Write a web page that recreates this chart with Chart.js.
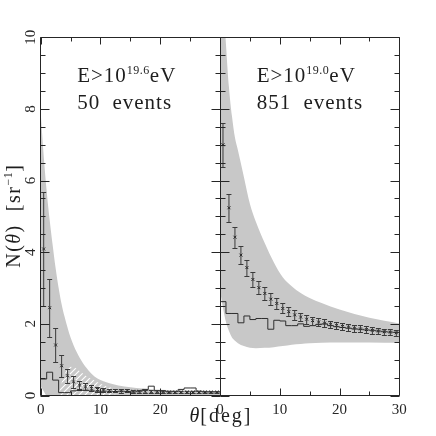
<!DOCTYPE html>
<html>
<head>
<meta charset="utf-8">
<script src="https://cdn.jsdelivr.net/npm/chart.js@4.4.0/dist/chart.umd.min.js"></script>
<style>
  html, body { margin: 0; padding: 0; background: #fff; }
  #wrap { position: relative; width: 436px; height: 436px; }
  #wrap canvas { position: absolute; left: 0; top: 0; }
</style>
</head>
<body>
<div id="wrap">
  <canvas id="leftPanel" width="436" height="436"></canvas>
  <canvas id="rightPanel" width="436" height="436"></canvas>
</div>
<script>
// ---- tick values ----
const yTickValues = [0, 2, 4, 6, 8, 10];
const yMinorTicks = [0, 0.5, 1, 1.5, 2, 2.5, 3, 3.5, 4, 4.5, 5, 5.5, 6, 6.5, 7, 7.5, 8, 8.5, 9, 9.5, 10];
const xMajorTicks = [0, 10, 20, 30];
const xMinorTicks = [0, 5, 10, 15, 20, 25, 30];
const xLabelsLeft = [0, 10, 20];
const xLabelsRight = [0, 10, 20, 30];

// ---- angular bins (deg) ----
const thetaBins = [0.5, 1.5, 2.5, 3.5, 4.5, 5.5, 6.5, 7.5, 8.5, 9.5, 10.5, 11.5, 12.5, 13.5, 14.5,
                   15.5, 16.5, 17.5, 18.5, 19.5, 20.5, 21.5, 22.5, 23.5, 24.5, 25.5, 26.5, 27.5, 28.5, 29.5];
const binEdges = [0, 1, 2, 3, 4, 5, 6, 7, 8, 9, 10, 11, 12, 13, 14, 15,
                  16, 17, 18, 19, 20, 21, 22, 23, 24, 25, 26, 27, 28, 29, 30];

// ---- E > 10^19.6 eV, 50 events ----
const leftPoints = [4.09, 2.45, 1.41, 0.83, 0.55, 0.38, 0.29, 0.24, 0.20, 0.17, 0.15, 0.14, 0.14, 0.13, 0.13,
                    0.12, 0.12, 0.12, 0.11, 0.11, 0.11, 0.10, 0.10, 0.10, 0.10, 0.10, 0.10, 0.10, 0.10, 0.10];
const leftErrors = [1.60, 0.81, 0.48, 0.30, 0.20, 0.16, 0.12, 0.10, 0.08, 0.07, 0.06, 0.055, 0.05, 0.05, 0.045,
                    0.045, 0.04, 0.04, 0.04, 0.04, 0.035, 0.035, 0.035, 0.035, 0.035, 0.03, 0.03, 0.03, 0.03, 0.03];
const leftHist = [0.46, 0.65, 0.43, 0.08, 0.08, 0.13, 0.14, 0.15, 0.13, 0.12, 0.12, 0.12, 0.11, 0.12, 0.11,
                  0.10, 0.12, 0.17, 0.26, 0.13, 0.12, 0.10, 0.11, 0.17, 0.21, 0.21, 0.12, 0.10, 0.10, 0.10];
const leftBandTheta = [0, 0.5, 1, 1.5, 2, 2.5, 3, 3.5, 4, 5, 6, 7, 8, 9, 10, 12, 14, 16, 18, 20, 25, 30];
const leftBandUpper = [7.9, 6.7, 5.7, 4.9, 4.2, 3.55, 3.0, 2.55, 2.2, 1.62, 1.22, 0.92, 0.70, 0.53, 0.43,
                       0.32, 0.25, 0.21, 0.18, 0.16, 0.14, 0.12];
const leftBandLower = [0.25, 0.12, 0, 0, 0, 0, 0, 0, 0, 0, 0, 0, 0, 0, 0, 0, 0, 0, 0, 0, 0, 0];
const leftHatchTheta = [2.9, 4, 5, 6, 7, 8, 9, 10, 11, 12, 12.5];
const leftHatchUpper = [0, 0.6, 0.8, 0.75, 0.62, 0.5, 0.42, 0.33, 0.26, 0.2, 0.17];

// ---- E > 10^19.0 eV, 851 events ----
const rightPoints = [7.00, 5.24, 4.42, 3.92, 3.57, 3.24, 3.01, 2.85, 2.69, 2.57, 2.43, 2.34, 2.25, 2.19, 2.13,
                     2.09, 2.05, 2.02, 1.99, 1.96, 1.93, 1.91, 1.88, 1.86, 1.84, 1.82, 1.80, 1.78, 1.77, 1.75];
const rightErrors = [0.62, 0.39, 0.29, 0.25, 0.22, 0.20, 0.18, 0.17, 0.16, 0.15, 0.14, 0.13, 0.13, 0.12, 0.12,
                     0.11, 0.11, 0.11, 0.10, 0.10, 0.10, 0.10, 0.095, 0.095, 0.09, 0.09, 0.09, 0.09, 0.09, 0.09];
const rightHist = [2.62, 2.29, 2.29, 2.03, 2.22, 2.12, 2.15, 2.15, 1.85, 2.10, 2.08, 1.95, 1.95, 2.00, 1.93,
                   1.95, 1.98, 2.00, 1.95, 1.92, 1.90, 1.88, 1.86, 1.85, 1.83, 1.82, 1.80, 1.78, 1.77, 1.76];
const rightBandTheta = [0, 0.5, 1, 1.5, 2, 2.5, 3, 4, 5, 6, 7.5, 9, 10.5, 12, 13.5, 15, 17, 20, 25, 30];
const rightBandUpper = [13, 11.2, 9.8, 8.6, 7.8, 7.2, 6.85, 6.1, 5.35, 4.85, 4.25, 3.72, 3.3, 3.05, 2.86,
                        2.72, 2.58, 2.4, 2.17, 2.01];
const rightBandLower = [2.94, 2.45, 2.05, 1.8, 1.62, 1.53, 1.46, 1.38, 1.33, 1.32, 1.33, 1.35, 1.38, 1.42, 1.44,
                        1.46, 1.47, 1.48, 1.48, 1.47];

const SERIF = "'Liberation Serif', 'DejaVu Serif', serif";
const INK = "#262626";
const BAND = "#c8c8c8";

function xy(xs, ys) {
  return xs.map((v, i) => ({ x: v, y: ys[i] }));
}

function histData(edges, counts) {
  return edges.map((e, i) => ({ x: e, y: counts[Math.min(i, counts.length - 1)] }));
}

function makeHatch(ctx) {
  const c = document.createElement("canvas");
  c.width = 6; c.height = 6;
  const g = c.getContext("2d");
  g.strokeStyle = "#ffffff";
  g.lineWidth = 1.1;
  g.beginPath();
  g.moveTo(0, 6); g.lineTo(6, 0);
  g.moveTo(-1, 1); g.lineTo(1, -1);
  g.moveTo(5, 7); g.lineTo(7, 5);
  g.stroke();
  return ctx.createPattern(c, "repeat");
}

// draws a run of text pieces [text, font, dy, letterSpacing]
function drawParts(ctx, parts, x, y, align) {
  let total = 0;
  parts.forEach((p) => {
    ctx.font = p[1];
    ctx.letterSpacing = p[3] || "0px";
    p.w = ctx.measureText(p[0]).width;
    total += p.w;
  });
  let cx = align === "center" ? x - total / 2 : x;
  ctx.textAlign = "left";
  ctx.textBaseline = "alphabetic";
  parts.forEach((p) => {
    ctx.font = p[1];
    ctx.letterSpacing = p[3] || "0px";
    ctx.fillText(p[0], cx, y + (p[2] || 0));
    cx += p.w;
  });
  ctx.letterSpacing = "0px";
}

function decorPlugin(points, errors, notes, withTitles) {
  return {
    id: "panelDecor",
    afterDatasetsDraw(chart) {
      const { ctx, chartArea: a, scales: { x, y } } = chart;
      ctx.save();

      // error bars
      ctx.strokeStyle = "#3a3a3a";
      ctx.lineWidth = 1;
      ctx.beginPath();
      thetaBins.forEach((t, i) => {
        const px = x.getPixelForValue(t);
        const top = Math.round(y.getPixelForValue(points[i] + errors[i])) + 0.5;
        const bot = Math.round(y.getPixelForValue(Math.max(points[i] - errors[i], 0))) + 0.5;
        ctx.moveTo(px, top); ctx.lineTo(px, bot);
        ctx.moveTo(px - 2.5, top); ctx.lineTo(px + 2.5, top);
        ctx.moveTo(px - 2.5, bot); ctx.lineTo(px + 2.5, bot);
      });
      ctx.stroke();

      // frame
      const L = Math.floor(a.left) + 0.5, R = Math.floor(a.right) + 0.5;
      const T = Math.floor(a.top) + 0.5, B = Math.floor(a.bottom) + 0.5;
      ctx.strokeStyle = INK;
      ctx.beginPath();
      ctx.rect(L, T, R - L, B - T);
      // inward ticks
      yMinorTicks.forEach((v) => {
        const len = yTickValues.includes(v) ? 9 : 5;
        const py = Math.round(y.getPixelForValue(v)) + 0.5;
        ctx.moveTo(L, py); ctx.lineTo(L + len, py);
        ctx.moveTo(R, py); ctx.lineTo(R - len, py);
      });
      xMinorTicks.forEach((v) => {
        const len = xMajorTicks.includes(v) ? 7 : 4;
        const px = Math.round(x.getPixelForValue(v)) + 0.5;
        ctx.moveTo(px, T); ctx.lineTo(px, T + len);
        ctx.moveTo(px, B); ctx.lineTo(px, B - len);
      });
      ctx.stroke();

      // annotations
      ctx.fillStyle = "#1e1e1e";
      const big = "21px " + SERIF, sup = "12px " + SERIF;
      drawParts(ctx, [["E>10", big, 0, "1px"], [notes.exp, sup, -8, "0.5px"], ["eV", big, 0, "1px"]],
        a.left + notes.dx, 81.7, "left");
      ctx.wordSpacing = "6px";
      drawParts(ctx, [[notes.count + " events", big, 0, "1px"]], a.left + notes.dx, 109.3, "left");
      ctx.wordSpacing = "0px";

      if (withTitles) {
        const t = "20px " + SERIF, ti = "italic 20px " + SERIF;
        // x title
        drawParts(ctx, [["θ", ti, 0, "1px"], ["[deg]", t, 0, "2px"]], 221, 421.5, "center");
        // y title
        ctx.save();
        ctx.translate(20, 216);
        ctx.rotate(-Math.PI / 2);
        drawParts(ctx, [["N(", t, 0, "1.5px"], ["θ", ti, 0, "1.5px"], [")  [sr", t, 0, "1.5px"],
          ["−1", sup, -8, "0.5px"], ["]", t, 0, "1px"]], 0, 0, "center");
        ctx.restore();
      }
      ctx.restore();
    }
  };
}

function makePanel(id, cfg) {
  const canvas = document.getElementById(id);
  const ctx = canvas.getContext("2d");
  const datasets = [
    {
      type: "line", data: xy(thetaBins, cfg.points), showLine: false,
      pointStyle: "crossRot", pointRadius: 2, pointBorderWidth: 1,
      pointBorderColor: "#1a1a1a", pointBackgroundColor: "#1a1a1a"
    },
    {
      type: "line", data: histData(binEdges, cfg.hist), stepped: true,
      borderColor: "#2e2e2e", borderWidth: 1, pointRadius: 0, fill: false
    }
  ];
  if (cfg.hatchTheta) {
    datasets.push({
      type: "line", data: xy(cfg.hatchTheta, cfg.hatchUpper), borderWidth: 0,
      borderColor: "rgba(0,0,0,0)", pointRadius: 0, fill: "origin",
      backgroundColor: makeHatch(ctx), cubicInterpolationMode: "monotone"
    });
  }
  datasets.push(
    {
      type: "line", data: xy(cfg.bandTheta, cfg.bandUpper), borderWidth: 0,
      borderColor: "rgba(0,0,0,0)", pointRadius: 0, fill: "+1",
      backgroundColor: BAND, cubicInterpolationMode: "monotone"
    },
    {
      type: "line", data: xy(cfg.bandTheta, cfg.bandLower), borderWidth: 0,
      borderColor: "rgba(0,0,0,0)", pointRadius: 0, fill: false,
      cubicInterpolationMode: "monotone"
    }
  );

  const tickFont = { family: SERIF, size: 15 };

  return new Chart(canvas, {
    type: "line",
    data: { datasets },
    options: {
      responsive: false,
      animation: false,
      events: [],
      layout: { padding: cfg.padding },
      plugins: { legend: { display: false }, tooltip: { enabled: false } },
      scales: {
        x: {
          type: "linear", min: 0, max: 30, position: "bottom",
          afterBuildTicks: (s) => { s.ticks = cfg.xLabels.map((v) => ({ value: v })); },
          afterFit: (s) => { s.height = 40.5; },
          ticks: { font: tickFont, color: INK, padding: 6, autoSkip: false, maxRotation: 0 },
          grid: { display: false, drawTicks: false },
          border: { display: false }
        },
        y: {
          type: "linear", min: 0, max: 10, display: cfg.showY,
          afterBuildTicks: (s) => { s.ticks = yTickValues.map((v) => ({ value: v })); },
          afterFit: (s) => { s.width = cfg.showY ? 40.7 : 0; },
          ticks: { font: tickFont, color: INK, padding: 2, autoSkip: false,
                   minRotation: 90, maxRotation: 90, crossAlign: "center" },
          grid: { display: false, drawTicks: false },
          border: { display: false }
        }
      }
    },
    plugins: [decorPlugin(cfg.points, cfg.errors, cfg.notes, cfg.titles)]
  });
}

makePanel("leftPanel", {
  points: leftPoints, errors: leftErrors, hist: leftHist,
  bandTheta: leftBandTheta, bandUpper: leftBandUpper, bandLower: leftBandLower,
  hatchTheta: leftHatchTheta, hatchUpper: leftHatchUpper,
  xLabels: xLabelsLeft, showY: true, titles: true,
  padding: { left: 0, top: 37.3, right: 216, bottom: 0 },
  notes: { exp: "19.6", count: "50", dx: 36.5 }
});

makePanel("rightPanel", {
  points: rightPoints, errors: rightErrors, hist: rightHist,
  bandTheta: rightBandTheta, bandUpper: rightBandUpper, bandLower: rightBandLower,
  xLabels: xLabelsRight, showY: false, titles: false,
  padding: { left: 220, top: 37.3, right: 36.7, bottom: 0 },
  notes: { exp: "19.0", count: "851", dx: 36.7 }
});
</script>
</body>
</html>
